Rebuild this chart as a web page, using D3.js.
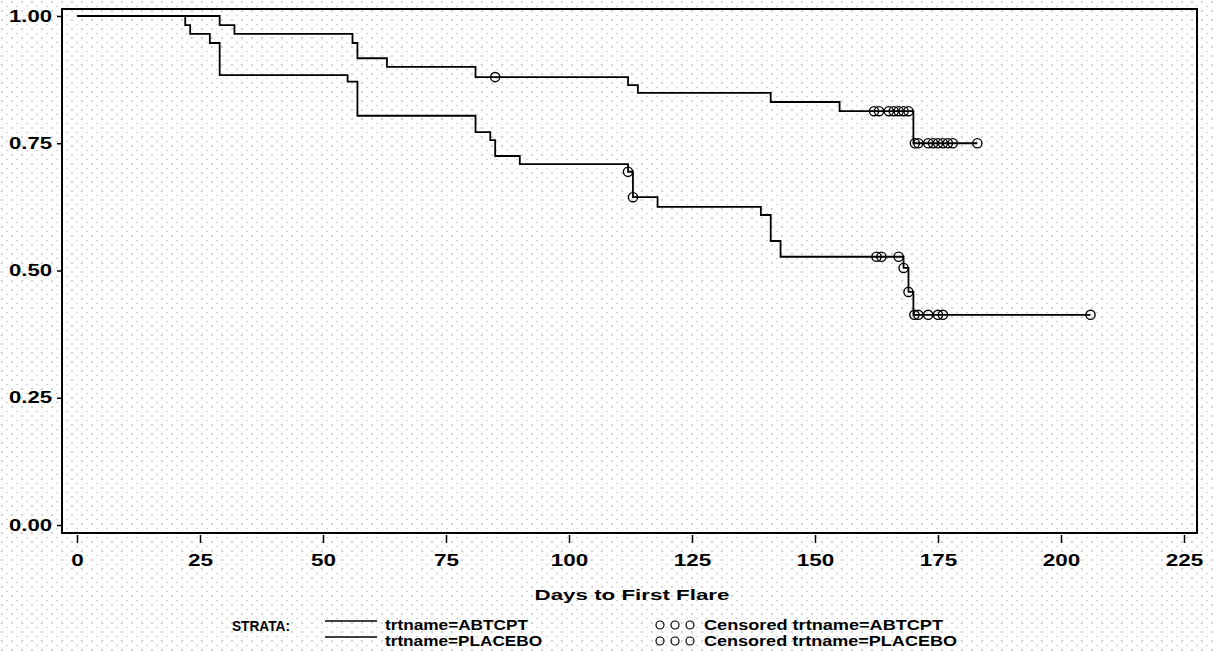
<!DOCTYPE html>
<html lang="en">
<head>
    <meta charset="UTF-8">
    <title>Days to First Flare</title>
    <script src="https://d3js.org/d3.v7.min.js"></script>
    <style>
        body { margin: 0; background: #fff; }
        text { font-family: "Liberation Sans", Arial, sans-serif; fill: #000; }
    </style>
</head>
<body>
<div id="chart"></div>
<script>
    // step curves (time, survival)
    const abtTimes = [0, 29, 32, 56, 57, 63, 81, 112, 114, 141, 155, 170, 183];
    const abtSurv  = [1.0, 0.982, 0.965, 0.947, 0.917, 0.900, 0.880, 0.864, 0.849, 0.831, 0.813, 0.750, 0.750];
    const abtCensored = [85, 162, 163, 165, 166, 167, 168, 169, 170.3, 171, 173, 174, 175, 176, 177, 178, 183];

    const plaTimes = [0, 22, 23, 27, 29, 55, 57, 81, 84, 85, 90, 112, 113, 118, 139, 141, 143, 168, 169, 170, 206];
    const plaSurv  = [1.0, 0.982, 0.965, 0.947, 0.884, 0.871, 0.804, 0.772, 0.756, 0.725, 0.709, 0.694, 0.644, 0.625, 0.609, 0.558, 0.527, 0.505, 0.458, 0.413, 0.413];
    const plaCensored = [112, 113, 162.5, 163.5, 167, 168, 169, 170.2, 171, 173, 175, 176, 206];

    const xTicks = [0, 25, 50, 75, 100, 125, 150, 175, 200, 225];
    const yTicks = [0, 0.25, 0.5, 0.75, 1.0];

    const width = 1215, height = 653;
    const svg = d3.select("#chart").append("svg").attr("width", width).attr("height", height);

    // faint scanner speckle
    const defs = svg.append("defs");
    const pat = defs.append("pattern").attr("id", "dots").attr("width", 10).attr("height", 9)
        .attr("patternUnits", "userSpaceOnUse");
    pat.append("circle").attr("cx", 2).attr("cy", 2).attr("r", 0.8).attr("fill", "#9a9a9a");
    pat.append("circle").attr("cx", 7).attr("cy", 6.5).attr("r", 0.7).attr("fill", "#b5b5b5");
    svg.append("rect").attr("width", width).attr("height", height).attr("fill", "url(#dots)");

    const x = d3.scaleLinear().domain([0, 225]).range([77, 1184]);
    const y = d3.scaleLinear().domain([0, 1]).range([525, 16]);

    // stretch a text to a given width, glyphs included (SAS fonts are wide)
    const stretch = (sel, w) => sel.attr("textLength", w).attr("lengthAdjust", "spacingAndGlyphs");

    // frame
    svg.append("rect").attr("x", 62).attr("y", 9).attr("width", 1135).attr("height", 524)
        .attr("fill", "none").attr("stroke", "#000").attr("stroke-width", 2);

    // y axis
    const yAxis = svg.append("g").attr("transform", "translate(62,0)")
        .call(d3.axisLeft(y).tickValues(yTicks).tickFormat(d3.format(".2f")).tickSize(5).tickPadding(5));
    yAxis.select(".domain").remove();
    yAxis.selectAll("line").attr("stroke", "#000").attr("stroke-width", 1.5);
    yAxis.selectAll("text").attr("font-size", 16).attr("font-weight", "bold")
        .attr("font-family", "Liberation Sans, Arial").call(stretch, 43);

    // x axis
    const xAxis = svg.append("g").attr("transform", "translate(0,535)")
        .call(d3.axisBottom(x).tickValues(xTicks).tickFormat(d3.format("d")).tickSize(8).tickPadding(12));
    xAxis.select(".domain").remove();
    xAxis.selectAll("line").attr("stroke", "#000").attr("stroke-width", 1.5);
    xAxis.selectAll("text").attr("font-size", 16).attr("font-weight", "bold")
        .attr("font-family", "Liberation Sans, Arial")
        .each(function(d) {
            d3.select(this).call(stretch, String(d).length * 12.5);
        });

    svg.append("text").attr("x", 632).attr("y", 600).attr("text-anchor", "middle")
        .attr("font-size", 15).attr("font-weight", "bold").call(stretch, 195)
        .text("Days to First Flare");

    // curves
    const line = d3.line().x(d => x(d[0])).y(d => y(d[1])).curve(d3.curveStepAfter);
    const stepAt = (times, surv, t) => surv[d3.bisectRight(times, t) - 1];

    const groups = [
        { times: abtTimes, surv: abtSurv, cens: abtCensored },
        { times: plaTimes, surv: plaSurv, cens: plaCensored }
    ];

    groups.forEach(g => {
        svg.append("path")
            .datum(g.times.map((t, i) => [t, g.surv[i]]))
            .attr("d", line)
            .attr("fill", "none").attr("stroke", "#000").attr("stroke-width", 1.8);

        svg.selectAll(null).data(g.cens).enter().append("circle")
            .attr("cx", d => x(d))
            .attr("cy", d => y(stepAt(g.times, g.surv, d)))
            .attr("r", 4.6)
            .attr("fill", "none").attr("stroke", "#000").attr("stroke-width", 1.4);
    });

    // legend
    svg.append("text").attr("x", 232).attr("y", 631).attr("font-size", 14).attr("font-weight", "bold")
        .call(stretch, 58).text("STRATA:");

    const legendRows = ["trtname=ABTCPT", "trtname=PLACEBO"];
    const legendWidths = [143, 157];
    legendRows.forEach((name, i) => {
        const ly = 621 + i * 16;
        svg.append("line").attr("x1", 325).attr("x2", 377).attr("y1", ly).attr("y2", ly)
            .attr("stroke", "#000").attr("stroke-width", 1.5);
        svg.append("text").attr("x", 385).attr("y", ly + 9).attr("font-size", 14).attr("font-weight", "bold")
            .call(stretch, legendWidths[i]).text(name);

        [660, 675, 690].forEach(cx => {
            svg.append("circle").attr("cx", cx).attr("cy", ly + 4).attr("r", 4)
                .attr("fill", "none").attr("stroke", "#000").attr("stroke-width", 1.2);
        });
        svg.append("text").attr("x", 704).attr("y", ly + 9).attr("font-size", 14).attr("font-weight", "bold")
            .call(stretch, legendWidths[i] + 96)
            .text("Censored " + name);
    });
</script>
</body>
</html>
